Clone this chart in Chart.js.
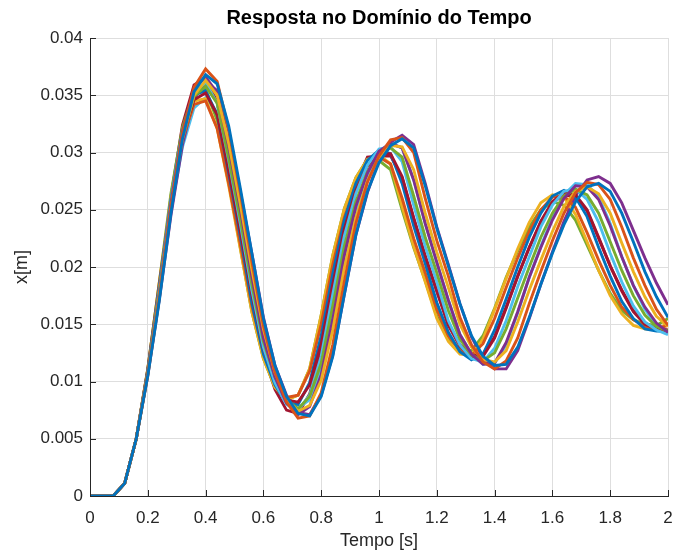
<!DOCTYPE html>
<html>
<head>
<meta charset="utf-8">
<title>Resposta no Domínio do Tempo</title>
<script src="https://cdn.jsdelivr.net/npm/chart.js@4.4.0/dist/chart.umd.min.js"></script>
<style>
  html, body { margin: 0; padding: 0; background: #fff; }
  #wrap { width: 673px; height: 555px; }
</style>
</head>
<body>
<div id="wrap"><canvas id="chart" width="673" height="555"></canvas></div>
<script>
// sample instants [s], one every 0.04 s
const tempo = [0, 0.04, 0.08, 0.12, 0.16, 0.2, 0.24, 0.28, 0.32, 0.36,
  0.4, 0.44, 0.48, 0.52, 0.56, 0.6, 0.64, 0.68, 0.72, 0.76,
  0.8, 0.84, 0.88, 0.92, 0.96, 1.0, 1.04, 1.08, 1.12, 1.16,
  1.2, 1.24, 1.28, 1.32, 1.36, 1.4, 1.44, 1.48, 1.52, 1.56,
  1.6, 1.64, 1.68, 1.72, 1.76, 1.8, 1.84, 1.88, 1.92, 1.96, 2.0];

// x[m] of each simulated run
const run1 = [0, 0, 0, 0.0011, 0.0050, 0.0105, 0.0171, 0.0247, 0.0312, 0.0353,
  0.0368, 0.0360, 0.0323, 0.0269, 0.0212, 0.0155, 0.0114, 0.0087, 0.0072, 0.0070,
  0.0087, 0.0122, 0.0176, 0.0228, 0.0266, 0.0291, 0.0306, 0.0312, 0.0304, 0.0271,
  0.0234, 0.0201, 0.0168, 0.0140, 0.0122, 0.0114, 0.0115, 0.0130, 0.0156, 0.0185,
  0.0212, 0.0237, 0.0257, 0.0270, 0.0273, 0.0266, 0.0247, 0.0222, 0.0196, 0.0174, 0.0156];
const run2 = [0, 0, 0, 0.0011, 0.0050, 0.0106, 0.0173, 0.0252, 0.0317, 0.0357,
  0.0373, 0.0362, 0.0320, 0.0265, 0.0205, 0.0149, 0.0108, 0.0082, 0.0068, 0.0070,
  0.0090, 0.0132, 0.0187, 0.0238, 0.0274, 0.0297, 0.0311, 0.0313, 0.0300, 0.0260,
  0.0223, 0.0192, 0.0156, 0.0132, 0.0117, 0.0111, 0.0118, 0.0138, 0.0168, 0.0196,
  0.0223, 0.0247, 0.0265, 0.0274, 0.0272, 0.0259, 0.0235, 0.0208, 0.0184, 0.0163, 0.0149];
const run3 = [0, 0, 0, 0.0011, 0.0050, 0.0106, 0.0175, 0.0251, 0.0312, 0.0350,
  0.0363, 0.0350, 0.0308, 0.0255, 0.0198, 0.0146, 0.0108, 0.0085, 0.0074, 0.0079,
  0.0101, 0.0145, 0.0199, 0.0243, 0.0275, 0.0296, 0.0306, 0.0305, 0.0285, 0.0247,
  0.0213, 0.0182, 0.0150, 0.0130, 0.0119, 0.0117, 0.0127, 0.0152, 0.0180, 0.0206,
  0.0231, 0.0253, 0.0266, 0.0270, 0.0264, 0.0247, 0.0221, 0.0196, 0.0174, 0.0157, 0.0148];
const run4 = [0, 0, 0, 0.0011, 0.0050, 0.0107, 0.0177, 0.0255, 0.0318, 0.0356,
  0.0366, 0.0352, 0.0305, 0.0251, 0.0192, 0.0138, 0.0104, 0.0081, 0.0071, 0.0078,
  0.0106, 0.0154, 0.0210, 0.0253, 0.0282, 0.0301, 0.0308, 0.0304, 0.0276, 0.0238,
  0.0204, 0.0171, 0.0141, 0.0124, 0.0115, 0.0116, 0.0134, 0.0161, 0.0191, 0.0217,
  0.0241, 0.0260, 0.0271, 0.0270, 0.0259, 0.0236, 0.0209, 0.0184, 0.0165, 0.0151, 0.0143];
const run5 = [0, 0, 0, 0.0011, 0.0050, 0.0108, 0.0179, 0.0254, 0.0314, 0.0349,
  0.0358, 0.0343, 0.0295, 0.0242, 0.0185, 0.0135, 0.0104, 0.0084, 0.0076, 0.0087,
  0.0116, 0.0166, 0.0218, 0.0257, 0.0283, 0.0299, 0.0304, 0.0296, 0.0262, 0.0226,
  0.0195, 0.0162, 0.0137, 0.0123, 0.0118, 0.0125, 0.0146, 0.0173, 0.0200, 0.0226,
  0.0247, 0.0262, 0.0268, 0.0263, 0.0247, 0.0222, 0.0197, 0.0175, 0.0158, 0.0148, 0.0144];
const run6 = [0, 0, 0, 0.0011, 0.0050, 0.0108, 0.0181, 0.0257, 0.0318, 0.0353,
  0.0361, 0.0343, 0.0293, 0.0238, 0.0180, 0.0130, 0.0099, 0.0080, 0.0075, 0.0088,
  0.0122, 0.0176, 0.0227, 0.0264, 0.0289, 0.0303, 0.0305, 0.0292, 0.0254, 0.0218,
  0.0187, 0.0153, 0.0132, 0.0120, 0.0117, 0.0129, 0.0153, 0.0183, 0.0209, 0.0235,
  0.0254, 0.0266, 0.0268, 0.0259, 0.0239, 0.0212, 0.0187, 0.0166, 0.0152, 0.0145, 0.0141];
const run7 = [0, 0, 0, 0.0011, 0.0050, 0.0109, 0.0182, 0.0256, 0.0314, 0.0346,
  0.0352, 0.0333, 0.0284, 0.0231, 0.0176, 0.0129, 0.0101, 0.0084, 0.0082, 0.0097,
  0.0133, 0.0185, 0.0233, 0.0267, 0.0288, 0.0299, 0.0299, 0.0279, 0.0243, 0.0210,
  0.0179, 0.0149, 0.0131, 0.0121, 0.0122, 0.0138, 0.0164, 0.0192, 0.0217, 0.0240,
  0.0257, 0.0265, 0.0263, 0.0250, 0.0226, 0.0201, 0.0179, 0.0161, 0.0150, 0.0146, 0.0144];
const run8 = [0, 0, 0, 0.0011, 0.0050, 0.0110, 0.0184, 0.0259, 0.0318, 0.0350,
  0.0354, 0.0333, 0.0282, 0.0227, 0.0169, 0.0124, 0.0097, 0.0081, 0.0080, 0.0099,
  0.0140, 0.0194, 0.0241, 0.0273, 0.0293, 0.0302, 0.0299, 0.0273, 0.0236, 0.0203,
  0.0169, 0.0143, 0.0126, 0.0119, 0.0124, 0.0145, 0.0172, 0.0200, 0.0226, 0.0247,
  0.0262, 0.0267, 0.0261, 0.0244, 0.0217, 0.0192, 0.0170, 0.0155, 0.0146, 0.0144, 0.0144];
const run9 = [0, 0, 0, 0.0011, 0.0050, 0.0111, 0.0186, 0.0257, 0.0312, 0.0342,
  0.0345, 0.0321, 0.0273, 0.0220, 0.0166, 0.0125, 0.0100, 0.0086, 0.0088, 0.0109,
  0.0150, 0.0202, 0.0243, 0.0272, 0.0290, 0.0296, 0.0290, 0.0260, 0.0225, 0.0195,
  0.0163, 0.0140, 0.0127, 0.0123, 0.0133, 0.0155, 0.0182, 0.0208, 0.0231, 0.0250,
  0.0261, 0.0262, 0.0252, 0.0230, 0.0206, 0.0184, 0.0165, 0.0154, 0.0148, 0.0146, 0.0149];
const run10 = [0, 0, 0, 0.0011, 0.0050, 0.0111, 0.0187, 0.0261, 0.0316, 0.0345,
  0.0347, 0.0321, 0.0271, 0.0216, 0.0161, 0.0120, 0.0095, 0.0084, 0.0088, 0.0111,
  0.0158, 0.0210, 0.0251, 0.0278, 0.0294, 0.0298, 0.0290, 0.0253, 0.0218, 0.0187,
  0.0155, 0.0135, 0.0124, 0.0123, 0.0137, 0.0163, 0.0190, 0.0216, 0.0239, 0.0256,
  0.0263, 0.0261, 0.0246, 0.0222, 0.0197, 0.0175, 0.0159, 0.0149, 0.0146, 0.0145, 0.0151];
const run11 = [0, 0, 0, 0.0011, 0.0050, 0.0105, 0.0172, 0.0245, 0.0307, 0.0347,
  0.0362, 0.0354, 0.0319, 0.0266, 0.0212, 0.0156, 0.0114, 0.0088, 0.0073, 0.0071,
  0.0088, 0.0123, 0.0176, 0.0228, 0.0265, 0.0294, 0.0309, 0.0315, 0.0307, 0.0273,
  0.0235, 0.0202, 0.0168, 0.0139, 0.0120, 0.0111, 0.0111, 0.0127, 0.0155, 0.0185,
  0.0213, 0.0240, 0.0262, 0.0276, 0.0279, 0.0273, 0.0256, 0.0232, 0.0208, 0.0186, 0.0167];
const run12 = [0, 0, 0, 0.0011, 0.0050, 0.0111, 0.0187, 0.0264, 0.0322, 0.0353,
  0.0355, 0.0328, 0.0275, 0.0217, 0.0161, 0.0120, 0.0095, 0.0084, 0.0088, 0.0111,
  0.0158, 0.0210, 0.0251, 0.0278, 0.0294, 0.0293, 0.0285, 0.0250, 0.0217, 0.0188,
  0.0157, 0.0138, 0.0128, 0.0127, 0.0140, 0.0164, 0.0191, 0.0214, 0.0235, 0.0250,
  0.0257, 0.0254, 0.0241, 0.0219, 0.0197, 0.0177, 0.0162, 0.0154, 0.0150, 0.0149, 0.0155];
const run13 = [0, 0, 0, 0.0011, 0.0050, 0.0107, 0.0179, 0.0249, 0.0305, 0.0339,
  0.0348, 0.0335, 0.0294, 0.0245, 0.0192, 0.0141, 0.0108, 0.0086, 0.0077, 0.0084,
  0.0110, 0.0156, 0.0209, 0.0250, 0.0278, 0.0301, 0.0308, 0.0304, 0.0276, 0.0238,
  0.0204, 0.0171, 0.0141, 0.0124, 0.0115, 0.0116, 0.0132, 0.0160, 0.0191, 0.0218,
  0.0243, 0.0263, 0.0273, 0.0272, 0.0261, 0.0238, 0.0209, 0.0184, 0.0163, 0.0149, 0.0142];
const run14 = [0, 0, 0, 0.0011, 0.0050, 0.0109, 0.0181, 0.0261, 0.0324, 0.0359,
  0.0365, 0.0344, 0.0292, 0.0234, 0.0174, 0.0124, 0.0093, 0.0075, 0.0072, 0.0089,
  0.0128, 0.0185, 0.0236, 0.0273, 0.0296, 0.0297, 0.0297, 0.0278, 0.0242, 0.0209,
  0.0179, 0.0150, 0.0132, 0.0123, 0.0124, 0.0139, 0.0165, 0.0192, 0.0217, 0.0239,
  0.0256, 0.0263, 0.0261, 0.0249, 0.0225, 0.0201, 0.0180, 0.0162, 0.0151, 0.0147, 0.0145];

const runs = [run1, run2, run3, run4, run5, run6, run7, run8, run9, run10, run11, run12, run13, run14];

// axis ticks
const xTicks = [0, 0.2, 0.4, 0.6, 0.8, 1, 1.2, 1.4, 1.6, 1.8, 2];
const xTickLabels = ['0', '0.2', '0.4', '0.6', '0.8', '1', '1.2', '1.4', '1.6', '1.8', '2'];
const yTicks = [0, 0.005, 0.01, 0.015, 0.02, 0.025, 0.03, 0.035, 0.04];
const yTickLabels = ['0', '0.005', '0.01', '0.015', '0.02', '0.025', '0.03', '0.035', '0.04'];

// default matlab line colour order
const matlabColors = ['#0072BD', '#D95319', '#EDB120', '#7E2F8E', '#77AC30', '#4DBEEE', '#A2142F'];

const TITLE = 'Resposta no Domínio do Tempo';
const FONT = "'Liberation Sans', Arial, Helvetica, sans-serif";
const AXIS_COLOR = '#262626';
const GRID_COLOR = '#dedede';

// matlab centres the title over the axes and draws ticks pointing inwards
const matlabAxes = {
    id: 'matlabAxes',
    afterDraw(chart) {
        const { ctx, chartArea: a, scales } = chart;
        ctx.save();
        ctx.strokeStyle = AXIS_COLOR;
        ctx.lineWidth = 1;
        ctx.beginPath();
        xTicks.forEach(v => {
            const px = Math.round(scales.x.getPixelForValue(v)) + 0.5;
            ctx.moveTo(px, a.bottom);
            ctx.lineTo(px, a.bottom - 6);
        });
        yTicks.forEach(v => {
            const py = Math.round(scales.y.getPixelForValue(v)) + 0.5;
            ctx.moveTo(a.left, py);
            ctx.lineTo(a.left + 6, py);
        });
        ctx.stroke();

        ctx.fillStyle = '#000';
        ctx.font = 'bold 20px ' + FONT;
        ctx.textAlign = 'center';
        ctx.textBaseline = 'middle';
        ctx.fillText(TITLE, (a.left + a.right) / 2, 18);
        ctx.restore();
    }
};

const datasets = runs.map((serie, i) => ({
    label: 'run ' + (i + 1),
    data: tempo.map((t, k) => ({ x: t, y: serie[k] })),
    borderColor: matlabColors[i % matlabColors.length],
    borderWidth: 2.9,
    pointRadius: 0,
    tension: 0,
    fill: false
}));

new Chart(document.getElementById('chart'), {
    type: 'line',
    data: { datasets },
    plugins: [matlabAxes],
    options: {
        responsive: false,
        animation: false,
        layout: { padding: { left: 0, right: 5, top: 38, bottom: 0 } },
        plugins: {
            legend: { display: false },
            tooltip: { enabled: false },
            title: { display: false }
        },
        scales: {
            x: {
                type: 'linear',
                min: 0,
                max: 2,
                afterBuildTicks: s => { s.ticks = xTicks.map(v => ({ value: v })); },
                afterFit: s => { s.height = 59; s.paddingLeft = 0; s.paddingRight = 0; },
                ticks: {
                    callback: (v, i) => xTickLabels[i],
                    color: AXIS_COLOR,
                    font: { family: FONT, size: 17 },
                    padding: 12,
                    maxRotation: 0,
                    autoSkip: false
                },
                grid: { color: GRID_COLOR, drawTicks: false },
                border: { color: AXIS_COLOR, width: 1 },
                title: {
                    display: true,
                    text: 'Tempo [s]',
                    color: AXIS_COLOR,
                    font: { family: FONT, size: 18 },
                    padding: { top: 0, bottom: 3 }
                }
            },
            y: {
                type: 'linear',
                min: 0,
                max: 0.04,
                afterBuildTicks: s => { s.ticks = yTicks.map(v => ({ value: v })); },
                afterFit: s => { s.width = 90; s.paddingTop = 0; s.paddingBottom = 0; },
                ticks: {
                    callback: (v, i) => yTickLabels[i],
                    color: AXIS_COLOR,
                    font: { family: FONT, size: 17 },
                    padding: 7,
                    autoSkip: false
                },
                grid: { color: GRID_COLOR, drawTicks: false },
                border: { color: AXIS_COLOR, width: 1 },
                title: {
                    display: true,
                    text: 'x[m]',
                    color: AXIS_COLOR,
                    font: { family: FONT, size: 18 },
                    padding: { top: 11, bottom: 0 }
                }
            }
        }
    }
});
</script>
</body>
</html>
